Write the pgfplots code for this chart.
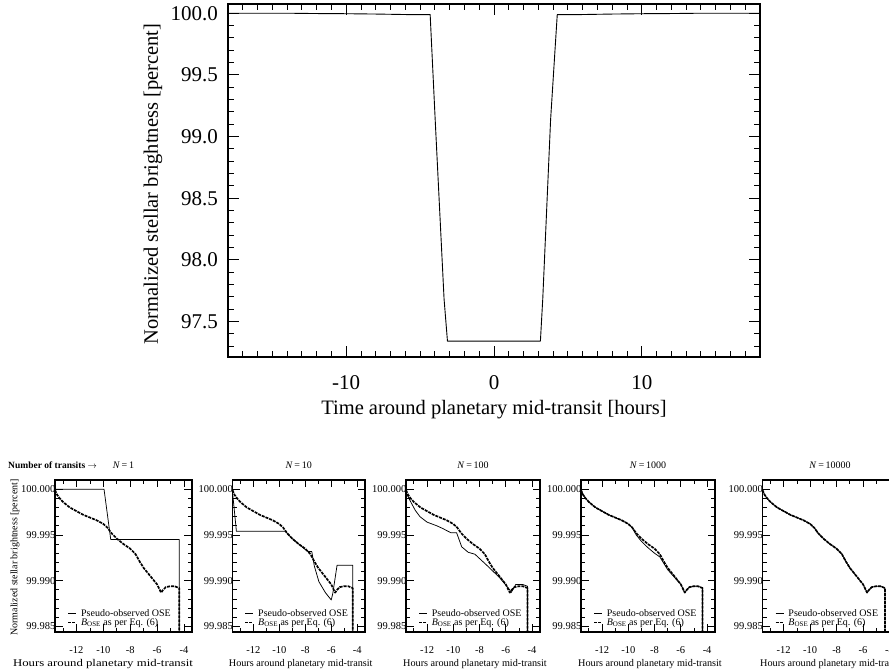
\documentclass[border=0pt]{standalone}
\usepackage{fontspec}
\setmainfont{Liberation Serif}
\usepackage{pgfplots}
\usepackage{pgfplotstable}
\pgfplotsset{compat=1.18}
\usepackage{xfp}

\pgfplotstableread{
t v
-18.00 100.0000
-15.00 100.0000
-13.60 99.9997
-12.00 99.9976
-10.00 99.9962
-8.00 99.9935
-6.00 99.9896
-5.70 99.9887
-5.00 99.9894
-4.32 99.9890
-3.98 99.137
-3.38 97.685
-3.15 97.342
3.14 97.342
3.30 97.685
3.83 99.137
4.28 99.9890
5.00 99.9894
5.70 99.9887
6.00 99.9896
8.00 99.9935
10.00 99.9962
12.00 99.9976
13.60 99.9997
15.00 100.0000
18.00 100.0000
}\toptable

\pgfplotstableread{
t v
-13.60 99.9999
-13.45 99.9994
-13.25 99.9990
-13.00 99.9986
-12.50 99.9980
-12.00 99.9976
-11.50 99.9972
-11.00 99.9969
-10.50 99.9966
-10.00 99.9962
-9.70 99.9958
-9.40 99.9952
-9.00 99.9946
-8.50 99.9940
-8.00 99.9935
-7.60 99.9929
-7.30 99.9921
-7.00 99.9914
-6.50 99.9905
-6.00 99.9896
-5.70 99.9887
-5.55 99.9890
-5.35 99.9893
-5.00 99.9894
-4.70 99.9894
-4.35 99.9892
-4.35 99.9700
}\bose

\pgfplotstableread{
t v
-13.60 100.0000
-9.95 100.0000
-9.45 99.9945
-4.35 99.9945
-4.35 99.9700
}\thinA

\pgfplotstableread{
t v
-13.60 99.9997
-13.30 99.9954
-9.55 99.9954
-9.00 99.9946
-8.50 99.9940
-8.00 99.9934
-7.80 99.9932
-7.50 99.9932
-7.30 99.9916
-6.95 99.9899
-6.45 99.9887
-6.00 99.9879
-5.88 99.9886
-5.55 99.9917
-4.35 99.9917
-4.35 99.9700
}\thinB

\pgfplotstableread{
t v
-13.60 99.9996
-13.20 99.9985
-12.90 99.9977
-12.54 99.9970
-12.00 99.9964
-11.26 99.9960
-10.80 99.9957
-10.20 99.99525
-9.75 99.99525
-9.36 99.9937
-8.86 99.9931
-8.36 99.9929
-7.46 99.9917
-6.45 99.9903
-5.70 99.9890
-5.60 99.9887
-5.24 99.9896
-4.74 99.9896
-4.35 99.9894
-4.35 99.9700
}\thinC

\pgfplotstableread{
t v
-13.60 99.9999
-13.45 99.9994
-13.25 99.9990
-13.00 99.9986
-12.50 99.9980
-12.00 99.9976
-11.50 99.9972
-11.00 99.9969
-10.50 99.9966
-10.00 99.9962
-9.70 99.9958
-9.40 99.9950
-9.00 99.9943
-8.50 99.9936
-8.00 99.9930
-7.60 99.9926
-7.30 99.9919
-7.00 99.9912
-6.50 99.9904
-6.00 99.9896
-5.70 99.9887
-5.55 99.9890
-5.35 99.9893
-5.00 99.9894
-4.70 99.9894
-4.35 99.9892
-4.35 99.9700
}\thinD

\pgfplotsset{
  thinline/.style={black, line width=0.75pt, solid, line join=round},
  thickdash/.style={black, line width=1.7pt, dash pattern=on 3pt off 1pt, line join=round},
  lowpanel/.style={
    scale only axis, anchor=south west, height=152pt,
    xmin=-13.6, xmax=-3.4,
    y coord trafo/.code={\edef\pgfmathresult{\fpeval{(##1-99.98)*1000}}},
    ymin=99.9844, ymax=100.001,
    ytick={99.985,99.990,99.995,100.000},
    yticklabels={99.985,99.990,99.995,100.000},
    minor ytick={99.986,99.987,99.988,99.989,99.991,99.992,99.993,99.994,99.996,99.997,99.998,99.999},
    xtick={-12,-10,-8,-6,-4}, xticklabels={-12,-10,-8,-6,-4},
    minor xtick={-13,-11,-9,-7,-5},
    xtick pos=both, ytick pos=both,
    xticklabel pos=left, yticklabel pos=left,
    tick align=inside,
    major tick length=7.5pt, minor tick length=4pt,
    every tick/.append style={black, line width=0.8pt},
    axis line style={line width=1.2pt},
    tick label style={font=\fontsize{10.5}{10.5}\selectfont},
    xticklabel style={anchor=base, yshift=-21.5pt},
    yticklabel style={anchor=east, inner sep=0pt, xshift=0.5pt},
    xlabel={Hours around planetary mid-transit},
    xlabel style={font=\fontsize{10.2}{10.2}\selectfont, at={(axis description cs:0.515,0)}, anchor=base, yshift=-34.5pt},
    title style={font=\fontsize{10}{10}\selectfont, at={(axis description cs:0.5,1)}, anchor=base, yshift=5.5pt},
    legend style={at={(axis description cs:0.09,0.03)}, anchor=south west, draw=none, fill=none,
      inner sep=0pt, row sep=0pt, column sep=3.5pt, font=\fontsize{10}{10}\selectfont, nodes={inner sep=0.4pt}},
    legend cell align=left,
    legend image code/.code={\draw[##1] (0pt,0pt) -- (8pt,0pt);},
  },
}

\newcommand{\legs}{%
  \addlegendentry{Pseudo-observed OSE}
  \addlegendentry{\textit{B}\textsubscript{OSE} as per Eq. (6)}}

\begin{document}
\begin{tikzpicture}

\begin{axis}[
  scale only axis, anchor=south west, at={(228pt,315pt)},
  width=532pt, height=353pt,
  xmin=-18, xmax=18, ymin=97.213, ymax=100.075,
  xtick={-10,0,10}, xticklabels={-10,0,10},
  minor xtick={-18,-17,...,18},
  ytick={97.5,98.0,98.5,99.0,99.5,100.0},
  yticklabels={97.5,98.0,98.5,99.0,99.5,100.0},
  minor ytick={97.3,97.4,97.6,97.7,97.8,97.9,98.1,98.2,98.3,98.4,98.6,98.7,98.8,98.9,99.1,99.2,99.3,99.4,99.6,99.7,99.8,99.9},
  xtick pos=both, ytick pos=both,
  xticklabel pos=left, yticklabel pos=left,
  tick align=inside,
  major tick length=11pt, minor tick length=6pt,
  every tick/.append style={black, line width=0.9pt},
  axis line style={line width=1.3pt},
  tick label style={font=\fontsize{21}{21}\selectfont},
  xticklabel style={anchor=base, yshift=-33pt},
  yticklabel style={anchor=east, inner sep=0pt, xshift=-10pt},
  xlabel={Time around planetary mid-transit [hours]},
  xlabel style={font=\fontsize{20.5}{20.5}\selectfont, at={(axis description cs:0.5,-0.15)}, anchor=center},
  ylabel={Normalized stellar brightness [percent]},
  ylabel style={font=\fontsize{20.5}{20.5}\selectfont, at={(axis description cs:-0.141,0.49)}, anchor=center},
]
\addplot[thinline, line width=0.9pt] table[x=t,y=v] {\toptable};
\end{axis}

\begin{axis}[lowpanel, at={(55pt,40pt)}, width=137pt,
  title={\textit{N}\,=\,1},
  xlabel style={font=\fontsize{10.3}{10.3}\selectfont, xscale=1.24, at={(axis description cs:0.35,0)}},
  ylabel={Normalized stellar brightness [percent]},
  ylabel style={font=\fontsize{10}{10}\selectfont, at={(axis description cs:-0.292,0.49)}, anchor=center},
]
\addplot[thinline] table[x=t,y=v] {\thinA};
\addplot[thickdash] table[x=t,y=v] {\bose};
\legs
\end{axis}

\begin{axis}[lowpanel, at={(232.5pt,40pt)}, width=132.5pt,
  title={\textit{N}\,=\,10}]
\addplot[thinline] table[x=t,y=v] {\thinB};
\addplot[thickdash] table[x=t,y=v] {\bose};
\legs
\end{axis}

\begin{axis}[lowpanel, at={(406pt,40pt)}, width=134pt,
  title={\textit{N}\,=\,100}]
\addplot[thinline] table[x=t,y=v] {\thinC};
\addplot[thickdash] table[x=t,y=v] {\bose};
\legs
\end{axis}

\begin{axis}[lowpanel, at={(581pt,40pt)}, width=134pt,
  title={\textit{N}\,=\,1000}]
\addplot[thinline] table[x=t,y=v] {\thinD};
\addplot[thickdash] table[x=t,y=v] {\bose};
\legs
\end{axis}

\begin{axis}[lowpanel, at={(762.5pt,40pt)}, width=135pt,
  title={\textit{N}\,=\,10000}]
\addplot[thinline] table[x=t,y=v] {\bose};
\addplot[thickdash] table[x=t,y=v] {\bose};
\legs
\end{axis}

\node[anchor=base west, inner sep=0pt, font=\bfseries\fontsize{9.5}{9.5}\selectfont] at (8pt,203.5pt) {Number of transits $\rightarrow$};

\pgfresetboundingbox
\path[use as bounding box] (0pt,0pt) rectangle (889pt,672pt);
\end{tikzpicture}
\end{document}
